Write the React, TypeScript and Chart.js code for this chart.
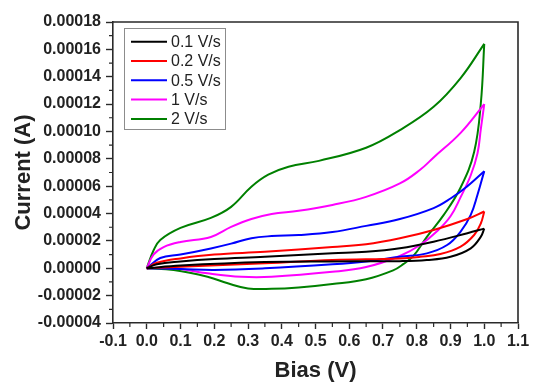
import React, { useEffect, useRef } from "react";
import { Chart, registerables } from "chart.js";

Chart.register(...registerables);

const FONT = "Arial, 'Liberation Sans', sans-serif";

const seriesLabels = ["0.1 V/s", "0.2 V/s", "0.5 V/s", "1 V/s", "2 V/s"];
const seriesColors = ["#000000", "#ff0000", "#0000ff", "#ff00ff", "#008000"];

const xTicks = [-0.1, 0.0, 0.1, 0.2, 0.3, 0.4, 0.5, 0.6, 0.7, 0.8, 0.9, 1.0, 1.1];
const yTicks = [-0.00004, -0.00002, 0.0, 0.00002, 0.00004, 0.00006, 0.00008, 0.0001, 0.00012, 0.00014, 0.00016, 0.00018];

// 0.1 V/s
const s01UpperV = [0, 0.03, 0.1, 0.2, 0.35, 0.55, 0.65, 0.75, 0.85, 0.95, 1.0];
const s01UpperI = [0, 0.3e-5, 0.5e-5, 0.68e-5, 0.84e-5, 1.09e-5, 1.2e-5, 1.46e-5, 1.94e-5, 2.56e-5, 2.9e-5];
const s01LowerV = [0, 0.1, 0.35, 0.55, 0.75, 0.83, 0.9, 0.96, 0.99, 1.0];
const s01LowerI = [0, 0.2e-5, 0.45e-5, 0.5e-5, 0.52e-5, 0.6e-5, 0.84e-5, 1.46e-5, 2.31e-5, 2.9e-5];

// 0.2 V/s
const s02UpperV = [0, 0.03, 0.1, 0.2, 0.35, 0.55, 0.65, 0.75, 0.85, 0.95, 1.0];
const s02UpperI = [0, 0.4e-5, 0.72e-5, 1.0e-5, 1.2e-5, 1.55e-5, 1.75e-5, 2.19e-5, 2.8e-5, 3.6e-5, 4.15e-5];
const s02LowerV = [0, 0.1, 0.35, 0.55, 0.75, 0.81, 0.87, 0.93, 0.97, 0.99, 1.0];
const s02LowerI = [0, 0.12e-5, 0.36e-5, 0.6e-5, 0.72e-5, 0.84e-5, 1.04e-5, 1.58e-5, 2.43e-5, 3.29e-5, 4.15e-5];

// 0.5 V/s
const s05UpperV = [0, 0.04, 0.1, 0.19, 0.25, 0.31, 0.37, 0.45, 0.55, 0.65, 0.75, 0.85, 0.9, 0.95, 1.0];
const s05UpperI = [0, 0.75e-5, 1.0e-5, 1.45e-5, 1.8e-5, 2.2e-5, 2.35e-5, 2.43e-5, 2.65e-5, 3.1e-5, 3.6e-5, 4.4e-5, 5.1e-5, 6.0e-5, 7.1e-5];
const s05LowerV = [0, 0.1, 0.2, 0.35, 0.55, 0.65, 0.75, 0.83, 0.89, 0.93, 0.96, 0.98, 1.0];
const s05LowerI = [0, -0.05e-5, -0.12e-5, 0, 0.29e-5, 0.5e-5, 0.84e-5, 1.09e-5, 1.7e-5, 2.68e-5, 3.9e-5, 5.37e-5, 7.1e-5];

// 1 V/s
const s1UpperV = [0, 0.02, 0.05, 0.1, 0.19, 0.25, 0.31, 0.37, 0.45, 0.55, 0.65, 0.75, 0.81, 0.85, 0.93, 1.0];
const s1UpperI = [0, 1.0e-5, 1.55e-5, 1.92e-5, 2.29e-5, 3.02e-5, 3.6e-5, 3.97e-5, 4.2e-5, 4.63e-5, 5.22e-5, 6.2e-5, 7.2e-5, 8.1e-5, 9.9e-5, 12.0e-5];
const s1LowerV = [0, 0.08, 0.18, 0.28, 0.37, 0.55, 0.65, 0.75, 0.81, 0.86, 0.9, 0.93, 0.96, 0.98, 0.99, 1.0];
const s1LowerI = [0, 0, -0.37e-5, -0.62e-5, -0.62e-5, -0.26e-5, 0.09e-5, 0.9e-5, 1.7e-5, 2.7e-5, 3.8e-5, 5.2e-5, 6.8e-5, 8.4e-5, 10.2e-5, 12.0e-5];

// 2 V/s
const s2UpperV = [0, 0.02, 0.04, 0.1, 0.19, 0.25, 0.31, 0.36, 0.42, 0.51, 0.65, 0.75, 0.85, 0.93, 1.0];
const s2UpperI = [0, 1.3e-5, 2.07e-5, 2.95e-5, 3.68e-5, 4.49e-5, 5.96e-5, 6.84e-5, 7.42e-5, 7.85e-5, 8.81e-5, 10.1e-5, 11.8e-5, 13.9e-5, 16.4e-5];
const s2LowerV = [0, 0.08, 0.18, 0.24, 0.3, 0.37, 0.45, 0.55, 0.65, 0.73, 0.76, 0.79, 0.83, 0.88, 0.93, 0.97, 0.99, 1.0];
const s2LowerI = [0, -0.13e-5, -0.62e-5, -1.1e-5, -1.47e-5, -1.5e-5, -1.4e-5, -1.15e-5, -0.8e-5, -0.15e-5, 0.3e-5, 0.9e-5, 2.3e-5, 3.9e-5, 5.9e-5, 8.5e-5, 12.1e-5, 16.4e-5];

const branches = [
  [s01UpperV, s01UpperI, s01LowerV, s01LowerI],
  [s02UpperV, s02UpperI, s02LowerV, s02LowerI],
  [s05UpperV, s05UpperI, s05LowerV, s05LowerI],
  [s1UpperV, s1UpperI, s1LowerV, s1LowerI],
  [s2UpperV, s2UpperI, s2LowerV, s2LowerI],
];

const AXIS_COLOR = "#2a2a2a";

const framePlugin = {
  id: "frame",
  afterDraw(chart: any) {
    const { ctx, chartArea, scales } = chart;
    const { left, right, top, bottom } = chartArea;
    ctx.save();
    ctx.strokeStyle = AXIS_COLOR;
    ctx.lineWidth = 1.6;
    ctx.beginPath();
    ctx.moveTo(left, top);
    ctx.lineTo(right, top);
    ctx.lineTo(right, bottom);
    ctx.stroke();
    // minor ticks
    ctx.lineWidth = 1.2;
    const xs = scales.x;
    const xt = xs.ticks;
    ctx.beginPath();
    for (let i = 0; i < xt.length - 1; i++) {
      const px = xs.getPixelForValue((xt[i].value + xt[i + 1].value) / 2);
      ctx.moveTo(px, bottom);
      ctx.lineTo(px, bottom + 4);
    }
    const ys = scales.y;
    const yt = ys.ticks;
    for (let i = 0; i < yt.length - 1; i++) {
      const py = ys.getPixelForValue((yt[i].value + yt[i + 1].value) / 2);
      ctx.moveTo(left, py);
      ctx.lineTo(left - 4, py);
    }
    ctx.stroke();

    // legend
    const bx = left + 11;
    const by = top + 6;
    const bw = 101;
    const bh = 101;
    ctx.fillStyle = "#ffffff";
    ctx.fillRect(bx, by, bw, bh);
    ctx.strokeStyle = "#8c8c8c";
    ctx.lineWidth = 1;
    ctx.strokeRect(bx + 0.5, by + 0.5, bw, bh);
    ctx.font = `16px ${FONT}`;
    ctx.textBaseline = "middle";
    ctx.textAlign = "left";
    seriesLabels.forEach((lab, i) => {
      const ry = by + 13.7 + i * 19.3;
      ctx.strokeStyle = seriesColors[i];
      ctx.lineWidth = 2;
      ctx.beginPath();
      ctx.moveTo(bx + 7, ry);
      ctx.lineTo(bx + 43, ry);
      ctx.stroke();
      ctx.fillStyle = "#222222";
      ctx.fillText(lab, bx + 47, ry + 1);
    });
    ctx.restore();
  },
};

export default function App() {
  const ref = useRef<HTMLCanvasElement | null>(null);
  useEffect(() => {
    document.body.style.margin = "0";
    const datasets: any[] = [];
    branches.forEach((b, si) => {
      for (let k = 0; k < 2; k++) {
        const vs = b[k * 2];
        const is = b[k * 2 + 1];
        datasets.push({
          label: seriesLabels[si],
          data: vs.map((v, j) => ({ x: v, y: is[j] })),
          borderColor: seriesColors[si],
          backgroundColor: seriesColors[si],
          borderWidth: 2,
          pointRadius: 0,
          showLine: true,
          fill: false,
          tension: 0.4,
        });
      }
    });
    const tickFont = { family: FONT, size: 16, weight: "bold" as const };
    const titleFont = { family: FONT, size: 22, weight: "bold" as const };
    const chart = new Chart(ref.current as HTMLCanvasElement, {
      type: "scatter",
      data: { datasets },
      options: {
        animation: false,
        responsive: false,
        maintainAspectRatio: false,
        layout: { padding: { top: 22, right: 15, left: 0, bottom: 0 } },
        plugins: { legend: { display: false }, tooltip: { enabled: false } },
        scales: {
          x: {
            type: "linear",
            min: -0.1,
            max: 1.1,
            afterBuildTicks: (s: any) => {
              s.ticks = xTicks.map((v) => ({ value: v }));
            },
            afterFit: (s: any) => {
              s.height = 62;
            },
            ticks: {
              autoSkip: false,
              maxRotation: 0,
              padding: 3,
              color: "#222",
              font: tickFont,
              callback: (v: any) => (Math.abs(Number(v)) < 1e-9 ? "0.0" : Number(v).toFixed(1)),
            },
            grid: { display: true, drawOnChartArea: false, tickLength: 6, tickWidth: 1.4, tickColor: AXIS_COLOR },
            border: { display: true, color: AXIS_COLOR, width: 1.6 },
            title: { display: true, text: "Bias (V)", color: "#222", font: titleFont, padding: { top: 0, bottom: 1 } },
          },
          y: {
            type: "linear",
            min: -0.00004,
            max: 0.00018,
            afterBuildTicks: (s: any) => {
              s.ticks = yTicks.map((v) => ({ value: v }));
            },
            afterFit: (s: any) => {
              s.width = 113;
            },
            ticks: {
              autoSkip: false,
              padding: 5,
              color: "#222",
              font: tickFont,
              callback: (v: any) => (Math.abs(Number(v)) < 1e-12 ? "0.00000" : Number(v).toFixed(5)),
            },
            grid: { display: true, drawOnChartArea: false, tickLength: 7, tickWidth: 1.4, tickColor: AXIS_COLOR },
            border: { display: true, color: AXIS_COLOR, width: 1.6 },
            title: { display: true, text: "Current (A)", color: "#222", font: titleFont, padding: { top: 11, bottom: 0 } },
          },
        },
      } as any,
      plugins: [framePlugin],
    });
    return () => chart.destroy();
  }, []);
  return (
    <div style={{ width: 533, height: 385 }}>
      <canvas ref={ref} width={533} height={385} style={{ display: "block" }} />
    </div>
  );
}
